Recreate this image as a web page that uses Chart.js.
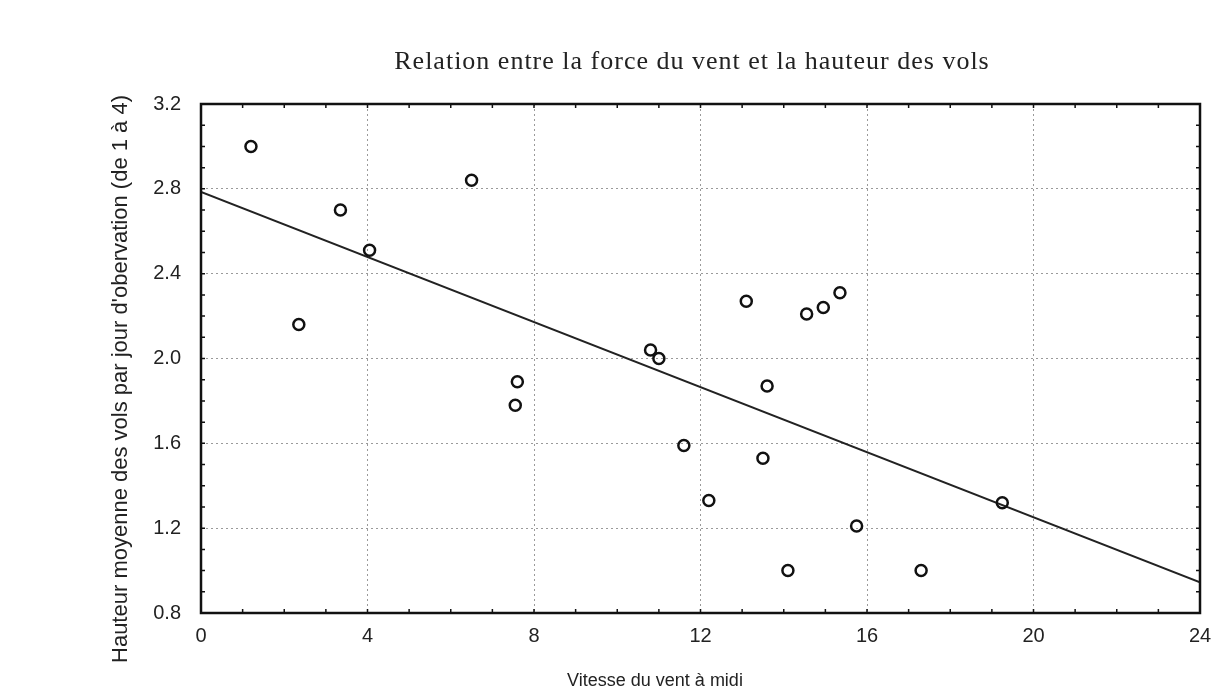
<!DOCTYPE html>
<html>
<head>
<meta charset="utf-8">
<script src="https://cdn.jsdelivr.net/npm/chart.js@4"></script>
<style>
	html, body { margin: 0; padding: 0; background: #ffffff; }
	#wrap { width: 1226px; height: 695px; }
</style>
</head>
<body>
<div id="wrap"><canvas id="ct_chart"></canvas></div>
<script>
// Data
const windSpeed = [1.2, 2.35, 3.35, 4.05, 6.5, 7.6, 7.55, 10.8, 11.0, 11.6, 12.2, 13.1, 13.6, 13.5, 14.1, 14.55, 14.95, 15.35, 15.75, 17.3, 19.25];
const flightHeight = [3.0, 2.16, 2.70, 2.51, 2.84, 1.89, 1.78, 2.04, 2.0, 1.59, 1.33, 2.27, 1.87, 1.53, 1.0, 2.21, 2.24, 2.31, 1.21, 1.0, 1.32];
const fitX = [0, 24];
const fitY = [2.785, 0.945];
const xTicks = [0, 4, 8, 12, 16, 20, 24];
const yTicks = [0.8, 1.2, 1.6, 2.0, 2.4, 2.8, 3.2];

const chartTitle = 'Relation entre la force du vent et la hauteur des vols';
const xTitle = 'Vitesse du vent à midi';
const yTitle = "Hauteur moyenne des vols par jour d'obervation (de 1 à 4)";

function toPoints(xs, ys){
	let pts = [];
	for (let i = 0; i < xs.length; i++) {
		pts.push({x: xs[i], y: ys[i]});
	}
	return pts;
}

// frame, inward ticks and the titles, drawn through the chart scales
const framePlugin = {
	id: 'frame',
	afterDatasetsDraw(chart){
		const ctx = chart.ctx;
		const a = chart.chartArea;
		const xs = chart.scales.x, ys = chart.scales.y;
		ctx.save();
		ctx.strokeStyle = '#111';
		ctx.lineWidth = 1.5;
		ctx.beginPath();
		for (let v = 1; v < 24; v++) {
			const px = xs.getPixelForValue(v);
			ctx.moveTo(px, a.bottom); ctx.lineTo(px, a.bottom - 4);
			ctx.moveTo(px, a.top); ctx.lineTo(px, a.top + 4);
		}
		for (let k = 9; k < 32; k++) {
			const py = ys.getPixelForValue(k / 10);
			ctx.moveTo(a.left, py); ctx.lineTo(a.left + 4, py);
			ctx.moveTo(a.right, py); ctx.lineTo(a.right - 4, py);
		}
		ctx.stroke();
		ctx.lineWidth = 2.5;
		ctx.strokeRect(a.left, a.top, a.right - a.left, a.bottom - a.top);
		ctx.restore();
	},
	afterDraw(chart){
		const ctx = chart.ctx;
		ctx.save();
		ctx.fillStyle = '#222';
		ctx.textAlign = 'center';
		ctx.textBaseline = 'middle';
		ctx.font = '26px "Liberation Serif", serif';
		ctx.letterSpacing = '1px';
		ctx.fillText(chartTitle, 692, 62);
		ctx.letterSpacing = '0px';
		ctx.font = '18px "Liberation Sans", Arial, sans-serif';
		ctx.fillText(xTitle, 655, 681);
		ctx.translate(121, 379);
		ctx.rotate(-Math.PI / 2);
		ctx.font = '22px "Liberation Sans", Arial, sans-serif';
		ctx.fillText(yTitle, 0, 0);
		ctx.restore();
	}
};

const gridStyle = {
	lineWidth: 1,
	drawTicks: false
};

new Chart(document.getElementById('ct_chart'), {
	type: 'scatter',
	data: {
		datasets: [{
			label: 'Observations',
			data: toPoints(windSpeed, flightHeight),
			pointRadius: 5.5,
			pointHoverRadius: 5.5,
			borderWidth: 2.5,
			borderColor: '#111',
			backgroundColor: 'rgba(255,255,255,0)'
		}, {
			label: 'Régression',
			type: 'line',
			data: toPoints(fitX, fitY),
			showLine: true,
			pointRadius: 0,
			borderWidth: 2,
			borderColor: '#222',
			fill: false
		}]
	},
	options: {
		responsive: true,
		maintainAspectRatio: false,
		animation: false,
		layout: {
			padding: {top: 104, right: 26, left: 0, bottom: 0}
		},
		plugins: {
			legend: {display: false},
			tooltip: {enabled: false}
		},
		scales: {
			x: {
				type: 'linear',
				min: 0,
				max: 24,
				afterFit: function(scale){ scale.height = 82; },
				afterBuildTicks: function(scale){ scale.ticks = xTicks.map(v => ({value: v})); },
				grid: Object.assign({}, gridStyle, {
					color: function(c){ return (c.tick && (c.tick.value === 0 || c.tick.value === 24)) ? 'rgba(0,0,0,0)' : '#9a9a9a'; }
				}),
				border: {display: false, dash: [2, 3]},
				ticks: {
					padding: 11,
					color: '#222',
					font: {family: '"Liberation Sans", Arial, sans-serif', size: 20}
				}
			},
			y: {
				type: 'linear',
				min: 0.8,
				max: 3.2,
				afterFit: function(scale){ scale.width = 201; },
				afterBuildTicks: function(scale){ scale.ticks = yTicks.map(v => ({value: v})); },
				grid: Object.assign({}, gridStyle, {
					color: function(c){ return (c.tick && (c.tick.value === 0.8 || c.tick.value === 3.2)) ? 'rgba(0,0,0,0)' : '#9a9a9a'; }
				}),
				border: {display: false, dash: [2, 3]},
				ticks: {
					padding: 20,
					color: '#222',
					font: {family: '"Liberation Sans", Arial, sans-serif', size: 20},
					callback: function(v){ return Number(v).toFixed(1); }
				}
			}
		}
	},
	plugins: [framePlugin]
});
</script>
</body>
</html>
